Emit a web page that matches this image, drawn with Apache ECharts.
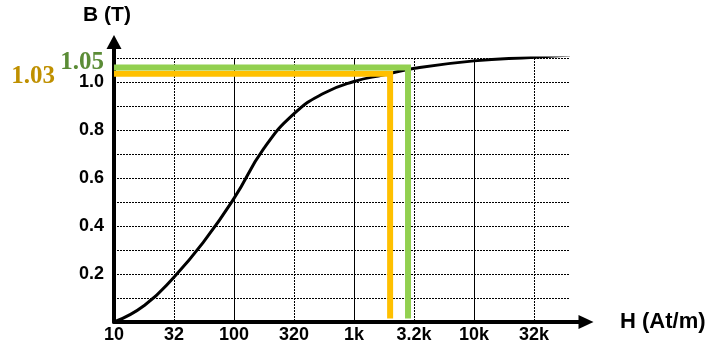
<!DOCTYPE html>
<html>
<head>
<meta charset="utf-8">
<script src="https://cdn.jsdelivr.net/npm/echarts@6/dist/echarts.min.js"></script>
<style>
html,body{margin:0;padding:0;background:#fff;}
#chart{width:723px;height:348px;}
</style>
</head>
<body>
<div id="chart"></div>
<script>
// B-H magnetisation curve (H in At/m, B in tesla)
const curveH = [10, 18, 32, 56, 100, 178, 320, 560, 1000, 1780, 3200, 10000, 32000, 63000];
const curveB = [0, 0.07, 0.19, 0.335, 0.515, 0.724, 0.87, 0.953, 1.002, 1.03, 1.057, 1.088, 1.103, 1.113];

// reading lines (orange / green)
const readH = [2000, 2820];
const readB = [1.034, 1.06];
const readLabels = ['1.03', '1.05'];
const readBottom = 0.015;

// axis ticks
const xTickValues = [10, 32, 100, 320, 1000, 3200, 10000, 32000];
const xTickLabels = ['10', '32', '100', '320', '1k', '3.2k', '10k', '32k'];
const yTickValues = [0.2, 0.4, 0.6, 0.8, 1.0];
const yTickLabels = ['0.2', '0.4', '0.6', '0.8', '1.0'];

const X_MIN = 10, X_MAX = 63096, Y_MIN = 0, Y_MAX = 1.1;

const chart = echarts.init(document.getElementById('chart'), null, {renderer: 'canvas'});

const sansBold = {fontFamily: 'Liberation Sans, Arial, sans-serif', fontWeight: 'bold', color: '#000'};
const dotted = {color: '#000', width: 1, type: [2, 1]};

function xLabel(v) {
  const lv = Math.log10(v);
  for (let i = 0; i < xTickValues.length; i++) {
    if (Math.abs(Math.log10(xTickValues[i]) - lv) < 0.02) return xTickLabels[i];
  }
  return '';
}
function yLabel(v) {
  for (let i = 0; i < yTickValues.length; i++) {
    if (Math.abs(yTickValues[i] - v) < 1e-6) return yTickLabels[i];
  }
  return '';
}

const readColors = ['#FFC000', '#92D050'];
const readTextColors = ['#BF9000', '#5B8C36'];
const readLabelCfg = [
  {distance: 59, offset: [0, 3]},
  {distance: 10, offset: [0, -5]}
];

const readSeries = readH.map((h, i) => ({
  type: 'line',
  xAxisIndex: 0, yAxisIndex: 0,
  data: [[X_MIN, readB[i]], [h, readB[i]], [h, readBottom]],
  showSymbol: false,
  symbol: 'none',
  lineStyle: {color: readColors[i], width: 6, join: 'miter', cap: 'butt'},
  z: 5 + i,
  silent: true,
  animation: false,
  markPoint: {
    symbol: 'circle', symbolSize: 0,
    data: [{coord: [X_MIN, readB[i]], value: readLabels[i]}],
    label: {
      show: true, position: 'left', distance: readLabelCfg[i].distance,
      offset: readLabelCfg[i].offset,
      formatter: readLabels[i],
      fontFamily: 'Liberation Serif, Times New Roman, serif', fontWeight: 'bold',
      fontSize: 25, color: readTextColors[i]
    }
  }
}));

const option = {
  animation: false,
  backgroundColor: '#fff',
  grid: [
    {left: 114, top: 58, right: 153, bottom: 26, containLabel: false},
    {left: 114, top: 42, right: 137, bottom: 26, containLabel: false}
  ],
  xAxis: [
    { // half-decade dotted grid + labels
      type: 'log', logBase: Math.sqrt(10), gridIndex: 0, min: X_MIN, max: X_MAX,
      axisLine: {show: false}, axisTick: {show: false},
      splitLine: {show: true, showMaxLine: false, showMinLine: false, lineStyle: dotted},
      axisLabel: Object.assign({interval: 0, fontSize: 18, margin: 4, formatter: xLabel, showMaxLabel: false}, sansBold)
    },
    { // decade solid grid
      type: 'log', logBase: 10, gridIndex: 0, min: X_MIN, max: X_MAX,
      axisLine: {show: false}, axisTick: {show: false}, axisLabel: {show: false},
      splitLine: {show: true, showMaxLine: false, showMinLine: false, lineStyle: {color: '#000', width: 1, type: 'solid'}}
    },
    { // arrow axis
      type: 'value', gridIndex: 1, min: 0, max: 1,
      axisLine: {show: true, symbol: ['none', 'triangle'], symbolSize: [14, 15], lineStyle: {color: '#000', width: 4}},
      axisTick: {show: false}, axisLabel: {show: false}, splitLine: {show: false},
      name: 'H (At/m)', nameLocation: 'end', nameGap: 34,
      nameTextStyle: Object.assign({fontSize: 22, padding: [12, 0, 0, 0]}, sansBold)
    }
  ],
  yAxis: [
    {
      type: 'value', gridIndex: 0, min: Y_MIN, max: Y_MAX, interval: 0.1,
      axisLine: {show: false}, axisTick: {show: false},
      splitLine: {show: true, lineStyle: dotted, showMinLine: false},
      axisLabel: Object.assign({fontSize: 18, margin: 10, formatter: yLabel, padding: [11, 0, 0, 0]}, sansBold)
    },
    {
      type: 'value', gridIndex: 1, min: 0, max: 1,
      axisLine: {show: true, symbol: ['none', 'triangle'], symbolSize: [15, 14], lineStyle: {color: '#000', width: 4}},
      axisTick: {show: false}, axisLabel: {show: false}, splitLine: {show: false},
      name: 'B (T)', nameLocation: 'end', nameGap: 16,
      nameTextStyle: Object.assign({fontSize: 21, padding: [0, 14, 0, 0]}, sansBold)
    }
  ],
  series: [
    {
      type: 'line',
      xAxisIndex: 0, yAxisIndex: 0,
      data: curveH.map((h, i) => [h, curveB[i]]),
      smooth: 0.5,
      showSymbol: false, symbol: 'none',
      lineStyle: {color: '#000', width: 3},
      z: 4,
      silent: true
    }
  ].concat(readSeries)
};

chart.setOption(option);
</script>
</body>
</html>
